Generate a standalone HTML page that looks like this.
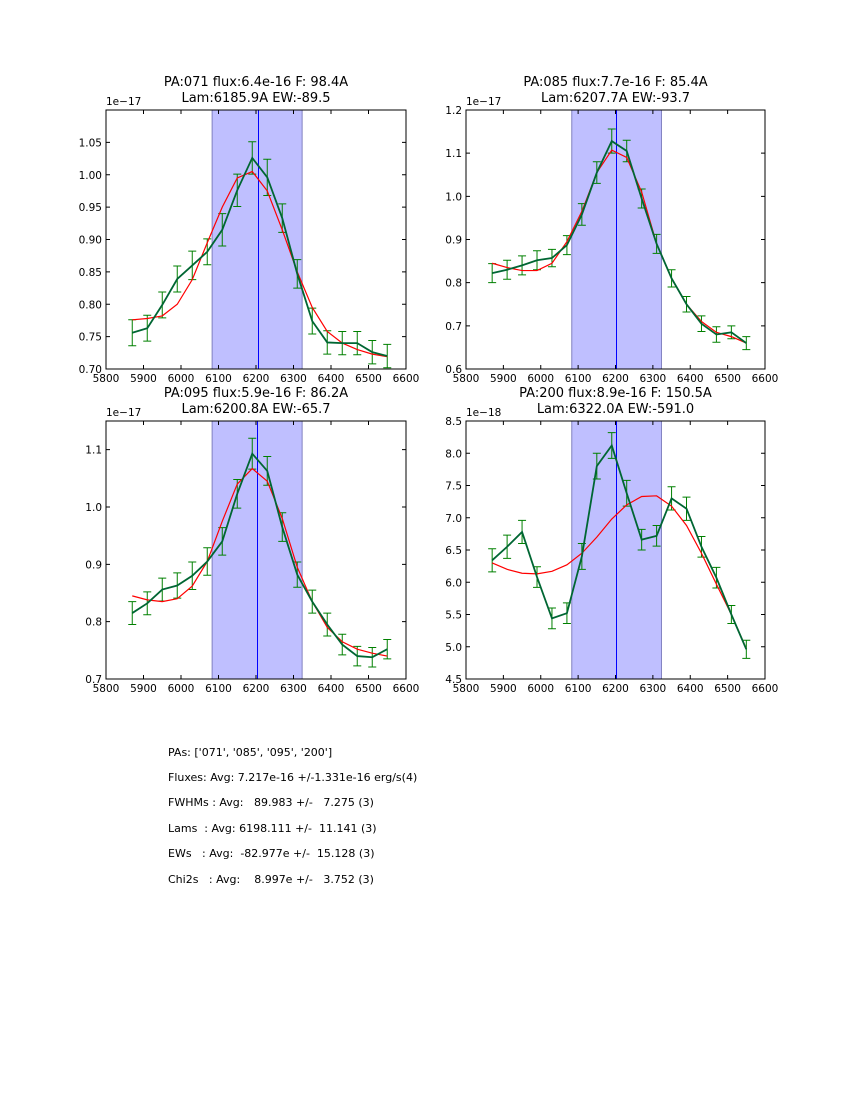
<!DOCTYPE html>
<html><head><meta charset="utf-8"><style>
body{margin:0;background:#fff;width:850px;height:1100px;overflow:hidden}
svg{display:block}
text{font-family:"DejaVu Sans","Liberation Sans",sans-serif}
</style></head><body>
<svg id="fig" width="850" height="1100">
<g id="info" font-size="11" fill="#000">
<text x="168" y="756">PAs: ['071', '085', '095', '200']</text>
<text x="168" y="781">Fluxes: Avg: 7.217e-16 +/-1.331e-16 erg/s(4)</text>
<text x="168" y="806" xml:space="preserve">FWHMs : Avg:   89.983 +/-   7.275 (3)</text>
<text x="168" y="832" xml:space="preserve">Lams  : Avg: 6198.111 +/-  11.141 (3)</text>
<text x="168" y="857" xml:space="preserve">EWs   : Avg:  -82.977e +/-  15.128 (3)</text>
<text x="168" y="883" xml:space="preserve">Chi2s   : Avg:    8.997e +/-   3.752 (3)</text>
</g>
</svg>
<script>
const wavelengths=[5870,5910,5950,5990,6030,6070,6110,6150,6190,6230,6270,6310,6350,6390,6430,6470,6510,6550];
const obs071=[0.756,0.763,0.799,0.839,0.860,0.881,0.915,0.976,1.026,0.996,0.933,0.847,0.774,0.741,0.740,0.740,0.726,0.720];
const fit071=[0.776,0.778,0.782,0.800,0.838,0.895,0.950,0.995,1.005,0.975,0.915,0.850,0.795,0.758,0.740,0.730,0.723,0.719];
const err071=[0.02,0.02,0.02,0.02,0.022,0.02,0.025,0.025,0.025,0.028,0.022,0.022,0.02,0.018,0.018,0.018,0.018,0.018];
const obs085=[0.822,0.830,0.840,0.852,0.857,0.887,0.958,1.055,1.128,1.105,0.995,0.890,0.810,0.750,0.705,0.680,0.685,0.660];
const fit085=[0.845,0.835,0.828,0.828,0.845,0.895,0.965,1.055,1.107,1.090,1.010,0.890,0.810,0.750,0.710,0.685,0.675,0.660];
const err085=[0.022,0.022,0.022,0.022,0.02,0.022,0.025,0.025,0.028,0.025,0.022,0.022,0.02,0.018,0.018,0.018,0.015,0.015];
const obs095=[0.815,0.832,0.856,0.863,0.880,0.905,0.940,1.023,1.093,1.063,0.965,0.882,0.835,0.795,0.760,0.740,0.738,0.752];
const fit095=[0.845,0.838,0.835,0.840,0.862,0.905,0.975,1.040,1.067,1.045,0.980,0.895,0.835,0.790,0.765,0.752,0.745,0.740];
const err095=[0.02,0.02,0.02,0.022,0.024,0.024,0.024,0.025,0.027,0.025,0.025,0.022,0.02,0.02,0.018,0.017,0.017,0.017];
const obs200=[6.34,6.55,6.78,6.08,5.44,5.52,6.40,7.80,8.12,7.38,6.66,6.72,7.30,7.14,6.55,6.07,5.50,4.96];
const fit200=[6.30,6.20,6.14,6.13,6.17,6.27,6.45,6.70,6.98,7.20,7.33,7.34,7.18,6.88,6.45,5.97,5.50,4.97];
const err200=[0.18,0.18,0.18,0.16,0.16,0.16,0.2,0.2,0.2,0.2,0.16,0.16,0.18,0.18,0.16,0.16,0.14,0.14];
const xTicks=[5800,5900,6000,6100,6200,6300,6400,6500,6600];
const yTicks1=[0.70,0.75,0.80,0.85,0.90,0.95,1.00,1.05];
const yTicks2=[0.6,0.7,0.8,0.9,1.0,1.1,1.2];
const yTicks3=[0.7,0.8,0.9,1.0,1.1];
const yTicks4=[4.5,5.0,5.5,6.0,6.5,7.0,7.5,8.0,8.5];
const titles=[["PA:071 flux:6.4e-16 F: 98.4A","Lam:6185.9A EW:-89.5"],["PA:085 flux:7.7e-16 F: 85.4A","Lam:6207.7A EW:-93.7"],["PA:095 flux:5.9e-16 F: 86.2A","Lam:6200.8A EW:-65.7"],["PA:200 flux:8.9e-16 F: 150.5A","Lam:6322.0A EW:-591.0"]];
const NS="http://www.w3.org/2000/svg";
const fig=document.getElementById('fig');
function mk(tag,attrs,parent){const e=document.createElementNS(NS,tag);for(const k in attrs)e.setAttribute(k,attrs[k]);parent.appendChild(e);return e;}
const panels=[
 {x:106,y:110,w:300,h:259,ymin:0.70,ymax:1.10,ticks:yTicks1,dec:2,exp:"1e\u221217",obs:obs071,fit:fit071,err:err071,name:"pa071",t:titles[0],line:6205},
 {x:466,y:110,w:299,h:259,ymin:0.6,ymax:1.2,ticks:yTicks2,dec:1,exp:"1e\u221217",obs:obs085,fit:fit085,err:err085,name:"pa085",t:titles[1],line:6200},
 {x:106,y:421,w:300,h:258,ymin:0.7,ymax:1.15,ticks:yTicks3,dec:1,exp:"1e\u221217",obs:obs095,fit:fit095,err:err095,name:"pa095",t:titles[2],line:6203},
 {x:466,y:421,w:299,h:258,ymin:4.5,ymax:8.5,ticks:yTicks4,dec:1,exp:"1e\u221218",obs:obs200,fit:fit200,err:err200,name:"pa200",t:titles[3],line:6200}];
panels.forEach(p=>{
 const g=mk('g',{},fig);
 
 
 const sx=v=>p.x+(v-5800)/800*p.w;
 const sy=v=>p.y+p.h-(v-p.ymin)/(p.ymax-p.ymin)*p.h;
 const clip='c'+p.name;
 const cp=mk('clipPath',{id:clip},g);mk('rect',{x:p.x,y:p.y,width:p.w,height:p.h},cp);
 const band=mk('rect',{x:sx(6083),y:p.y,width:sx(6323)-sx(6083),height:p.h,fill:'#bfbfff',stroke:'#8080c0','stroke-width':1},g);
 
 
 const vl=mk('line',{x1:Math.round(sx(p.line))+0.5,x2:Math.round(sx(p.line))+0.5,y1:p.y,y2:p.y+p.h,stroke:'#0000ff','stroke-width':1},g);
 
 
 const cg=mk('g',{'clip-path':'url(#'+clip+')'},g);
 wavelengths.forEach((w,i)=>{
  const X=sx(w),y1=sy(p.obs[i]-p.err[i]),y2=sy(p.obs[i]+p.err[i]);
  const eb=mk('path',{d:`M${X} ${y1}V${y2}M${X-4} ${y1}H${X+4}M${X-4} ${y2}H${X+4}`,stroke:'#008000','stroke-width':1,fill:'none'},cg);
  
  
 });
 const fitL=mk('polyline',{points:wavelengths.map((w,i)=>sx(w)+','+sy(p.fit[i])).join(' '),fill:'none',stroke:'#ff0000','stroke-width':1.2},cg);
 
 
 const obsL=mk('polyline',{points:wavelengths.map((w,i)=>sx(w)+','+sy(p.obs[i])).join(' '),fill:'none',stroke:'#006633','stroke-width':1.8},cg);
 
 
 const fr=mk('rect',{x:p.x,y:p.y,width:p.w,height:p.h,fill:'none',stroke:'#000','stroke-width':1},g);
 
 
 xTicks.forEach(t=>{const X=sx(t);
  mk('path',{d:`M${X} ${p.y+p.h}v-4M${X} ${p.y}v4`,stroke:'#000'},g);
  const tx=mk('text',{x:X,y:p.y+p.h+13,'font-size':10.5,'text-anchor':'middle'},g);tx.textContent=t;
  
  
 });
 p.ticks.forEach(t=>{const Y=sy(t);
  mk('path',{d:`M${p.x} ${Y}h4M${p.x+p.w} ${Y}h-4`,stroke:'#000'},g);
  const tx=mk('text',{x:p.x-4,y:Y+4,'font-size':10.5,'text-anchor':'end'},g);tx.textContent=t.toFixed(p.dec);
  
  
 });
 const ex=mk('text',{x:p.x,y:p.y-5,'font-size':10.5},g);ex.textContent=p.exp;
 
 
 p.t.forEach((s,k)=>{const tt=mk('text',{x:p.x+p.w/2,y:p.y-24+k*16,'font-size':13,'text-anchor':'middle'},g);tt.textContent=s;
  
  });
});
</script>
</body></html>
